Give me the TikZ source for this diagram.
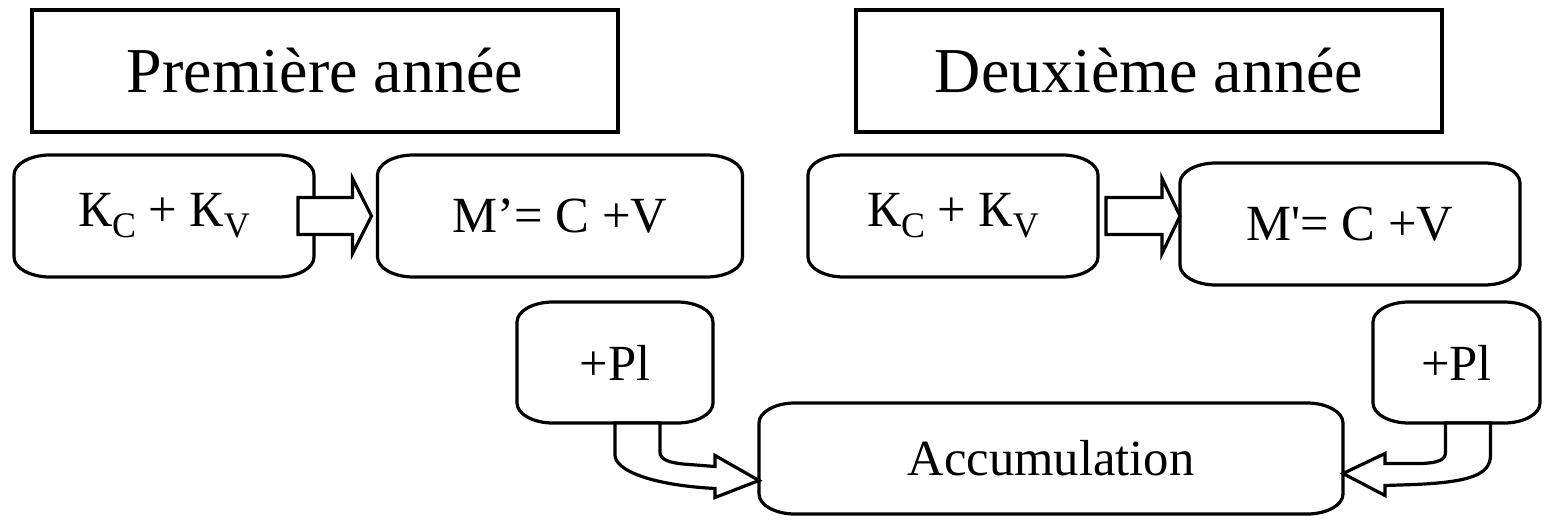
\documentclass[tikz,border=0pt]{standalone}
\usepackage{fontspec}
\setmainfont{Liberation Serif}
\usetikzlibrary{calc}

\newcommand{\lowsub}[1]{\raisebox{-0.22em}{\fontsize{27}{27}\selectfont #1}}

\newcommand{\roundframe}[1]{%
\draw[frameline] ($(#1.north west)+(36,0)$) -- ($(#1.north east)+(-36,0)$) .. controls ($(#1.north east)+(-16,0)$) and ($(#1.north east)+(0,9)$) .. ($(#1.north east)+(0,20)$) -- ($(#1.south east)+(0,-20)$) .. controls ($(#1.south east)+(0,-9)$) and ($(#1.south east)+(-16,0)$) .. ($(#1.south east)+(-36,0)$) -- ($(#1.south west)+(36,0)$) .. controls ($(#1.south west)+(16,0)$) and ($(#1.south west)+(0,-9)$) .. ($(#1.south west)+(0,-20)$) -- ($(#1.north west)+(0,20)$) .. controls ($(#1.north west)+(0,9)$) and ($(#1.north west)+(16,0)$) .. ($(#1.north west)+(36,0)$) -- cycle;}

\begin{document}
\begin{tikzpicture}[x=0.75pt,y=0.75pt,yscale=-1,xscale=1,
  frameline/.style={line width=2.4pt,line join=round},
  titlebox/.style={draw,line width=2.4pt,minimum width=439.5pt,minimum height=91.5pt,inner sep=0pt,outer sep=0pt,font=\fontsize{48}{56}\selectfont},
  roundbox/.style={inner sep=0pt,outer sep=0pt,minimum height=91.5pt,font=\fontsize{38}{46}\selectfont},
  blockarrow/.style={line width=2.4pt,line join=miter,fill=white}]
\useasboundingbox (0,0) rectangle (1545,521);

% Text Node
\node[titlebox] (yearone) at (325,71) {Première année};
% Text Node
\node[titlebox] (yeartwo) at (1149,71) {Deuxième année};

%Shape: Rounded Rect
\node[roundbox,minimum width=225pt] (kone) at (164,216) {К\lowsub{C} + К\lowsub{V}};
\roundframe{kone}
%Shape: Rounded Rect
\node[roundbox,minimum width=273.75pt] (mone) at (560,216) {M’= C +V};
\roundframe{mone}
%Shape: Rounded Rect
\node[roundbox,minimum width=217.5pt] (ktwo) at (953,216) {К\lowsub{C} + К\lowsub{V}};
\roundframe{ktwo}
%Shape: Rounded Rect
\node[roundbox,minimum width=255pt] (mtwo) at (1350,224) {M\textquotesingle= C +V};
\roundframe{mtwo}

%Shape: Rounded Rect
\node[roundbox,minimum width=147pt,minimum height=90.75pt] (plone) at (615,362.5) {+Pl};
\roundframe{plone}
%Shape: Rounded Rect
\node[roundbox,minimum width=125.25pt,minimum height=90.75pt] (pltwo) at (1456.5,362.5) {+Pl};
\roundframe{pltwo}
%Shape: Rounded Rect
\node[roundbox,minimum width=438pt,minimum height=83.25pt] (accu) at (1051,458.5) {Accumulation};
\roundframe{accu}

%Right Arrow
\coordinate (tipone) at (mone.west);
\draw[blockarrow] ($(kone.east)+(-16,-18.5)$) -- ($(tipone)+(-25,-18.5)$) -- ($(tipone)+(-25,-37.5)$) -- ($(tipone)+(-6,0)$) -- ($(tipone)+(-25,37.5)$) -- ($(tipone)+(-25,18.5)$) -- ($(kone.east)+(-16,18.5)$) -- cycle;
%Right Arrow
\coordinate (tiptwo) at (ktwo.east -| mtwo.west);
\draw[blockarrow] ($(ktwo.east)+(8,-18.5)$) -- ($(tiptwo)+(-18,-18.5)$) -- ($(tiptwo)+(-18,-37.5)$) -- (tiptwo) -- ($(tiptwo)+(-18,37.5)$) -- ($(tiptwo)+(-18,18.5)$) -- ($(ktwo.east)+(8,18.5)$) -- cycle;

%Curved Arrow
\coordinate (accin) at ($(accu.west)+(0,22)$);
\draw[blockarrow] (plone.south) -- ($(plone.south)+(0,32)$) .. controls ($(plone.south)+(0,47)$) and ($(plone.south)+(35,62)$) .. ($(accin)+(-44,8)$) -- ($(accin)+(-44,17)$) -- (accin) -- ($(accin)+(-44,-25)$) -- ($(accin)+(-44,-14)$) -- ($(accin)+(-70,-16)$) .. controls ($(plone.south)+(52,40)$) and ($(plone.south)+(45,36)$) .. ($(plone.south)+(45,29)$) -- ($(plone.south)+(45,0)$) -- cycle;
%Curved Arrow
\coordinate (accout) at ($(accu.east)+(0,15)$);
\draw[blockarrow] ($(pltwo.south)+(-11,0)$) -- ($(pltwo.south)+(-11,29)$) .. controls ($(pltwo.south)+(-11,37)$) and ($(pltwo.south)+(-18,40)$) .. ($(accout)+(77,-10)$) -- ($(accout)+(42,-10)$) -- ($(accout)+(42,-20)$) -- (accout) -- ($(accout)+(42,22)$) -- ($(accout)+(42,12)$) -- ($(accout)+(72,11)$) .. controls ($(pltwo.south)+(13,59)$) and ($(pltwo.south)+(34,52)$) .. ($(pltwo.south)+(34,32)$) -- ($(pltwo.south)+(34,0)$) -- cycle;

\end{tikzpicture}
\end{document}
